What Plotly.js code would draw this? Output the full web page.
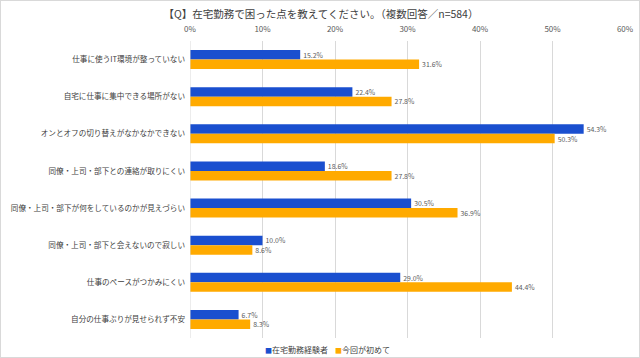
<!DOCTYPE html>
<html><head><meta charset="utf-8">
<script src="https://cdn.plot.ly/plotly-3.0.1.min.js"></script>
<style>html,body{margin:0;padding:0;background:#fff}#c{width:640px;height:358px;box-sizing:border-box;border:1px solid #d9d9d9}</style>
</head><body><div id="c"></div>
<script>
const categories = [
  "仕事に使うIT環境が整っていない",
  "自宅に仕事に集中できる場所がない",
  "オンとオフの切り替えがなかなかできない",
  "同僚・上司・部下との連絡が取りにくい",
  "同僚・上司・部下が何をしているのかが見えづらい",
  "同僚・上司・部下と会えないので寂しい",
  "仕事のペースがつかみにくい",
  "自分の仕事ぶりが見せられず不安"
];
const experienced = [15.2, 22.4, 54.3, 18.6, 30.5, 10.0, 29.0, 6.7];
const firstTime = [31.6, 27.8, 50.3, 27.8, 36.9, 8.6, 44.4, 8.3];
const seriesNames = ["在宅勤務経験者", "今回が初めて"];
const seriesColors = ["#1a4fcf", "#ffaa00"];
const xTicks = [0, 10, 20, 30, 40, 50, 60];

const font = "'Noto Sans CJK JP', 'Noto Sans', sans-serif";
function mk(vals, name, color){
  return {type:'bar', orientation:'h', y:categories, x:vals, name:name,
    marker:{color:color}, text:vals.map(v=>v.toFixed(1)+'%'), textposition:'outside',
    textfont:{size:8, color:'#595959', family:font}, cliponaxis:false, hoverinfo:'none', showlegend:false};
}
const data = [mk(experienced, seriesNames[0], seriesColors[0]), mk(firstTime, seriesNames[1], seriesColors[1])];
const legendX = [(262-189)/435, (332-189)/435];
const legendAnn = seriesNames.map((n,i)=>({xref:'paper', yref:'paper', x:legendX[i], y:-0.04, xanchor:'left', yanchor:'middle', showarrow:false,
  text:'<span style="color:'+seriesColors[i]+';font-size:7px">■</span>'+n, font:{size:8, color:'#404040', family:font}}));
const layout = {
  width:640, height:358,
  margin:{l:189, r:16, t:40, b:21},
  paper_bgcolor:'rgba(0,0,0,0)', plot_bgcolor:'#fff',
  font:{family:font, color:'#595959', size:8},
  title:{text:'【Q】在宅勤務で困った点を教えてください。（複数回答／n=584）', x:0.5, xanchor:'center', y:0.963, yanchor:'middle', font:{size:10.5, color:'#404040', family:font}},
  barmode:'group', bargap:0.49, bargroupgap:0,
  xaxis:{side:'top', range:[0,60], tickvals:xTicks, ticktext:xTicks.map(v=>v+'%'), showgrid:true, gridcolor:'#d9d9d9', zeroline:false, showline:false, ticks:'', ticklabelstandoff:6, tickfont:{size:8, color:'#595959'}, fixedrange:true},
  yaxis:{autorange:'reversed', showgrid:false, zeroline:false, showline:false, ticks:'', ticklabelstandoff:4, tickfont:{size:7.6, color:'#404040'}, automargin:false},
  showlegend:false,
  annotations:legendAnn,
  shapes:[{type:'line', xref:'x', yref:'paper', x0:0, x1:0, y0:0, y1:1, line:{color:'#d9d9d9', width:1}}]
};
Plotly.newPlot('c', data, layout, {staticPlot:true, displayModeBar:false});
</script></body></html>
